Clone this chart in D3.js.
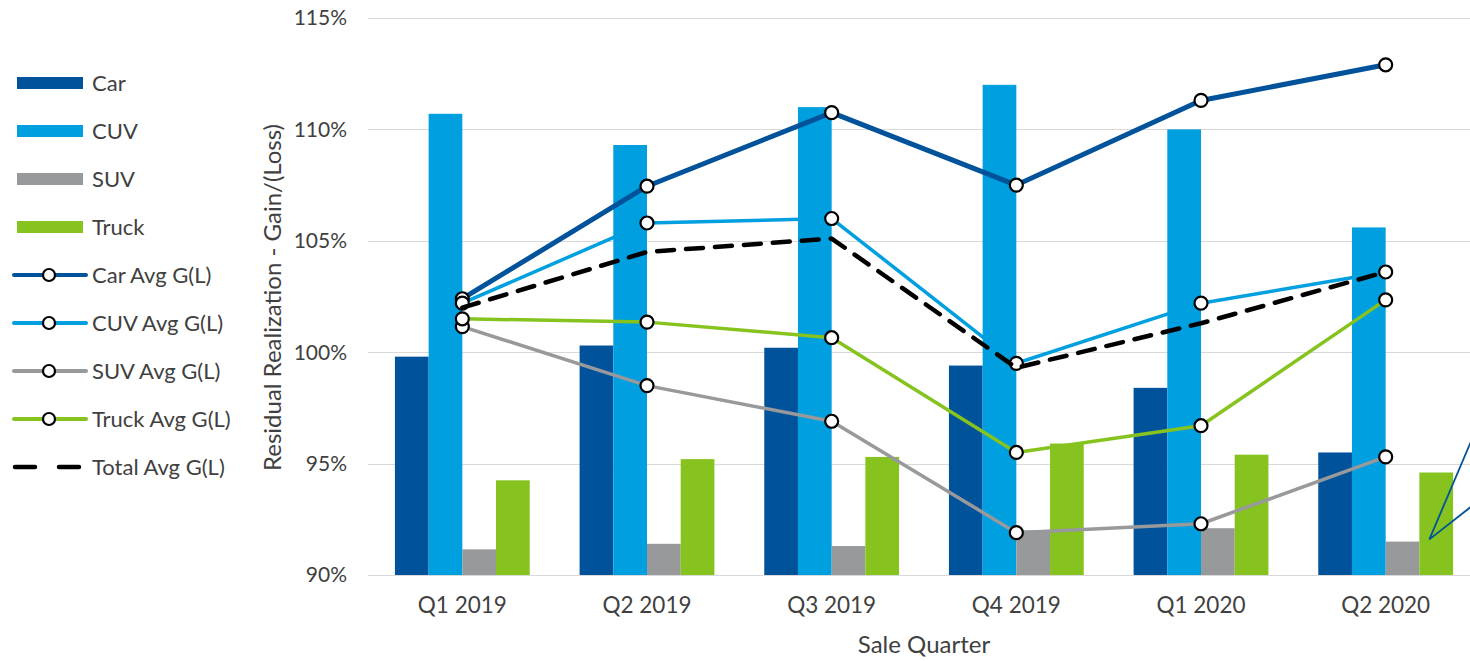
<!DOCTYPE html>
<html>
<head>
<meta charset="utf-8">
<script src="https://cdn.jsdelivr.net/npm/d3@7"></script>
<style>
  body { margin: 0; background: #fff; }
  svg { display: block; font-family: Lato, "Open Sans", sans-serif; }
</style>
</head>
<body>
<svg id="chart"></svg>
<script>
const quarters = ["Q1 2019", "Q2 2019", "Q3 2019", "Q4 2019", "Q1 2020", "Q2 2020"];
const barKeys = ["Car", "CUV", "SUV", "Truck"];

const carBars   = [99.8, 100.3, 100.2, 99.4, 98.4, 95.5];
const cuvBars   = [110.7, 109.3, 111.0, 112.0, 110.0, 105.6];
const suvBars   = [91.15, 91.4, 91.3, 92.0, 92.1, 91.5];
const truckBars = [94.25, 95.2, 95.3, 95.9, 95.4, 94.6];

const carAvg   = [102.4, 107.45, 110.75, 107.5, 111.3, 112.9];
const cuvAvg   = [102.2, 105.8, 106.0, 99.5, 102.2, 103.6];
const suvAvg   = [101.15, 98.5, 96.9, 91.9, 92.3, 95.3];
const truckAvg = [101.5, 101.35, 100.65, 95.5, 96.7, 102.35];
const totalAvg = [102.0, 104.5, 105.1, 99.3, 101.3, 103.6];

const yTicks = [90, 95, 100, 105, 110, 115];

const colors = { Car: "#00539b", CUV: "#009fdf", SUV: "#97999b", Truck: "#86c31e", Total: "#000" };

const width = 1470;
const height = 661;
const marginTop = 18;
const marginBottom = 86;
const marginLeft = 370;
const plotRight = 1478;

const barSeries = [
  { key: "Car", values: carBars },
  { key: "CUV", values: cuvBars },
  { key: "SUV", values: suvBars },
  { key: "Truck", values: truckBars }
];
const lineSeries = [
  { key: "Car", label: "Car Avg G(L)", values: carAvg, width: 5 },
  { key: "CUV", label: "CUV Avg G(L)", values: cuvAvg, width: 3.5 },
  { key: "SUV", label: "SUV Avg G(L)", values: suvAvg, width: 3.5 },
  { key: "Truck", label: "Truck Avg G(L)", values: truckAvg, width: 3.5 }
];

const x = d3.scaleBand().domain(quarters).range([marginLeft, plotRight]).paddingInner(0.27).paddingOuter(0.135);
const xc = q => x(q) + x.bandwidth() / 2;
const xSub = d3.scaleBand().domain(barKeys).range([0, x.bandwidth()]);
const y = d3.scaleLinear().domain([90, 115]).range([height - marginBottom, marginTop]);

const svg = d3.select("#chart").attr("width", width).attr("height", height);

// gridlines
svg.append("g")
  .selectAll("line")
  .data(yTicks)
  .join("line")
  .attr("x1", marginLeft - 2)
  .attr("x2", width)
  .attr("y1", d => Math.round(y(d)) + 0.5)
  .attr("y2", d => Math.round(y(d)) + 0.5)
  .attr("stroke", "#d9d9d9")
  .attr("stroke-width", 1.2);

// y tick labels
svg.append("g")
  .selectAll("text")
  .data(yTicks)
  .join("text")
  .attr("x", 347)
  .attr("y", d => y(d))
  .attr("dy", "0.35em")
  .attr("text-anchor", "end")
  .attr("font-size", 21)
  .attr("fill", "#404040")
  .text(d => d + "%");

// bars
quarters.forEach((q, i) => {
  svg.append("g")
    .selectAll("rect")
    .data(barSeries)
    .join("rect")
    .attr("x", s => x(q) + xSub(s.key))
    .attr("width", xSub.bandwidth())
    .attr("y", s => y(s.values[i]))
    .attr("height", s => y(90) - y(s.values[i]))
    .attr("fill", s => colors[s.key]);
});

// x tick labels
svg.append("g")
  .selectAll("text")
  .data(quarters)
  .join("text")
  .attr("x", d => xc(d))
  .attr("y", 613)
  .attr("text-anchor", "middle")
  .attr("font-size", 22.5)
  .attr("fill", "#404040")
  .text(d => d);

// axis titles
svg.append("text")
  .attr("x", (marginLeft + plotRight) / 2)
  .attr("y", 653)
  .attr("text-anchor", "middle")
  .attr("font-size", 24)
  .attr("fill", "#404040")
  .text("Sale Quarter");

svg.append("text")
  .attr("transform", `translate(281,${(y(90) + y(115)) / 2 + 1}) rotate(-90)`)
  .attr("text-anchor", "middle")
  .attr("font-size", 24)
  .attr("fill", "#404040")
  .text("Residual Realization - Gain/(Loss)");

const line = d3.line().x((d, i) => xc(quarters[i])).y(d => y(d));

// average lines with markers
lineSeries.forEach(s => {
  svg.append("path")
    .attr("d", line(s.values))
    .attr("fill", "none")
    .attr("stroke", colors[s.key])
    .attr("stroke-width", s.width)
    .attr("stroke-linejoin", "round");
});
lineSeries.forEach(s => {
  svg.append("g")
    .selectAll("circle")
    .data(s.values)
    .join("circle")
    .attr("cx", (d, i) => xc(quarters[i]))
    .attr("cy", d => y(d))
    .attr("r", 6.5)
    .attr("fill", "#fff")
    .attr("stroke", "#000")
    .attr("stroke-width", 2.2);
});

svg.append("path")
  .attr("d", line(totalAvg))
  .attr("fill", "none")
  .attr("stroke", "#000")
  .attr("stroke-width", 4.5)
  .attr("stroke-dasharray", "17,12")
  .attr("stroke-linecap", "round")
  .attr("stroke-linejoin", "round");

// callout arrow at the right edge
const tipX = x("Q2 2020") + xSub("Truck") + 10;
const tipY = y(91.6);
svg.append("path")
  .attr("d", `M${width + 2},${y(96.1)}L${tipX},${tipY}L${width + 2},${y(93.1)}`)
  .attr("fill", "none")
  .attr("stroke", colors.Car)
  .attr("stroke-width", 1.8);

// legend
const legend = svg.append("g").attr("font-size", 22).attr("fill", "#404040");
const legendItems = [
  ...barSeries.map(s => ({ type: "bar", key: s.key, label: s.key })),
  ...lineSeries.map(s => ({ type: "line", key: s.key, label: s.label })),
  { type: "total", key: "Total", label: "Total Avg G(L)" }
];
const ly = d3.scalePoint().domain(d3.range(legendItems.length)).range([83, 467]);
legendItems.forEach((it, i) => {
  const g = legend.append("g").attr("transform", `translate(0,${ly(i)})`);
  if (it.type === "bar") {
    g.append("rect").attr("x", 17).attr("y", -6).attr("width", 66).attr("height", 12).attr("fill", colors[it.key]);
  } else if (it.type === "line") {
    g.append("line").attr("x1", 14).attr("x2", 86).attr("stroke", colors[it.key])
      .attr("stroke-width", 4).attr("stroke-linecap", "round");
    g.append("circle").attr("cx", 49).attr("r", 6).attr("fill", "#fff").attr("stroke", "#000").attr("stroke-width", 2.2);
  } else {
    g.append("line").attr("x1", 15).attr("x2", 84).attr("stroke", "#000")
      .attr("stroke-width", 4.5).attr("stroke-dasharray", "20,24").attr("stroke-linecap", "round");
  }
  g.append("text").attr("x", 92).attr("dy", "0.35em").text(it.label);
});
</script>
</body>
</html>
